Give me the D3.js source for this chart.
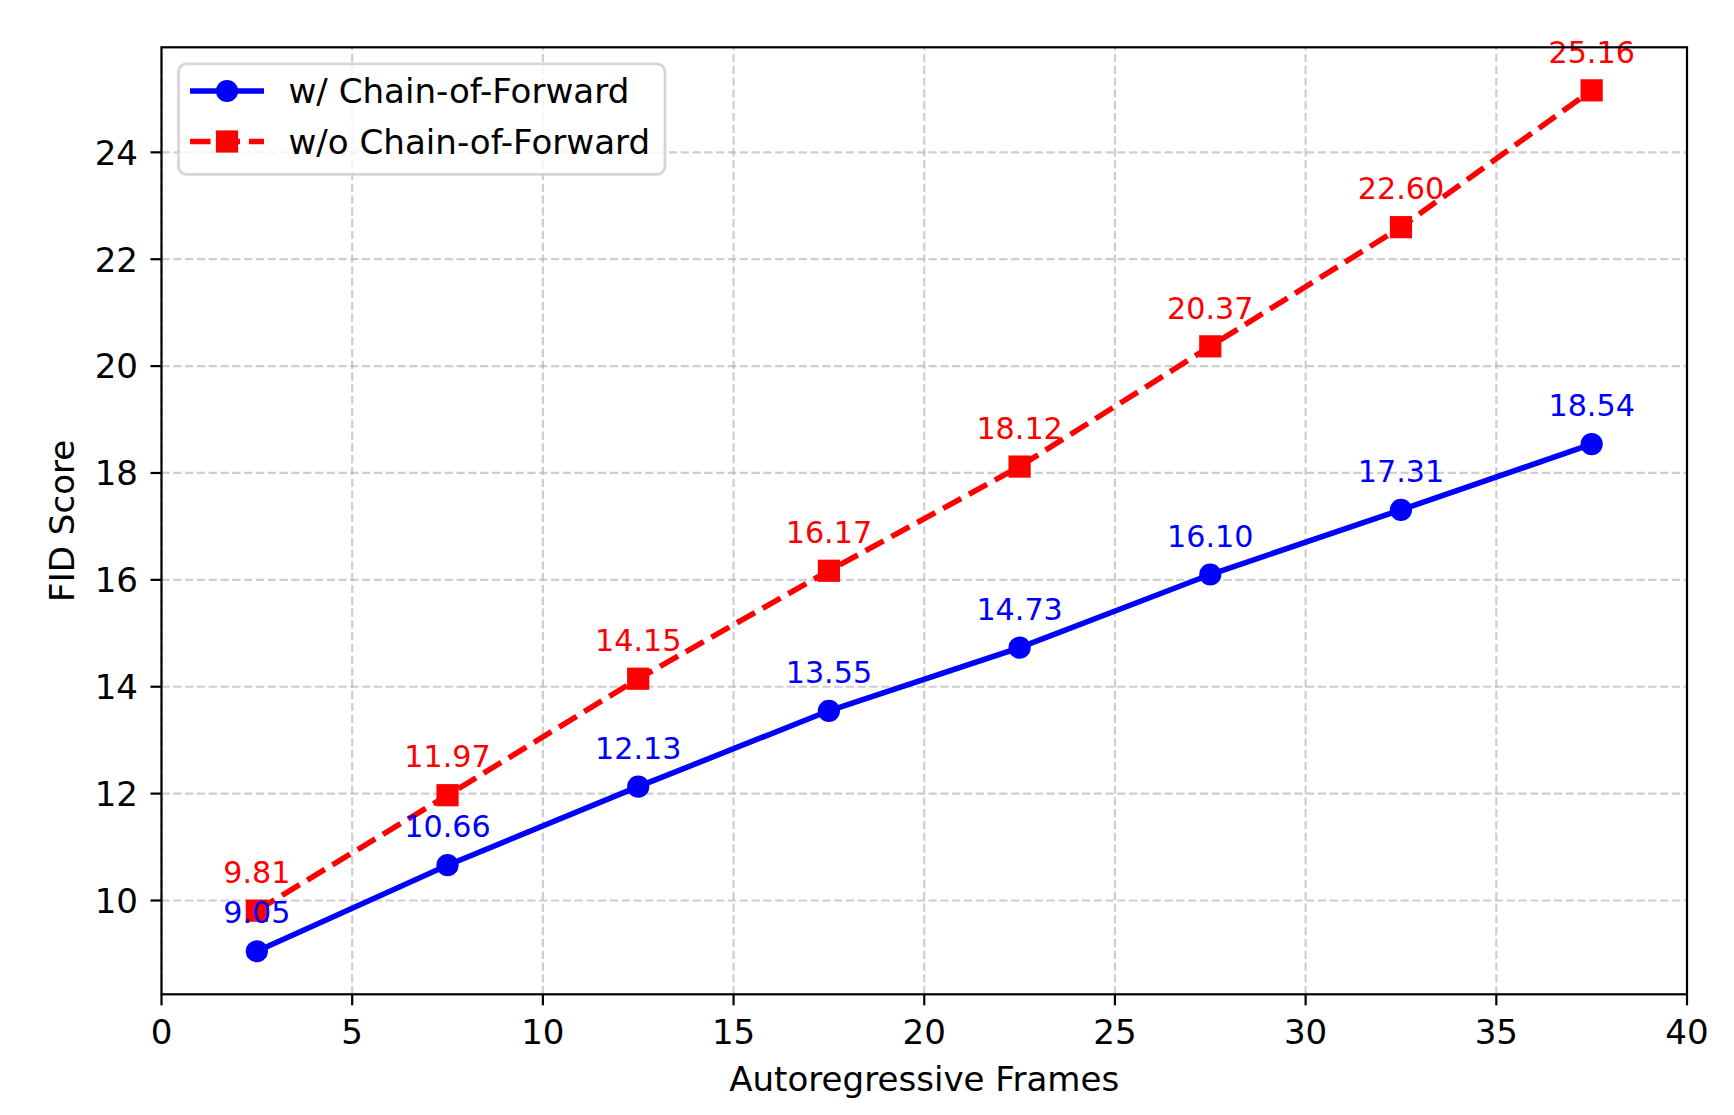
<!DOCTYPE html>
<html>
<head>
<meta charset="utf-8">
<script src="https://cdn.jsdelivr.net/npm/d3@7"></script>
<style>
  html, body { margin: 0; padding: 0; background: #fff; }
  svg { display: block; font-family: "DejaVu Sans", sans-serif; }
</style>
</head>
<body>
<svg id="chart" width="1734" height="1115"></svg>
<script>
// ---- data ----
const frames = [2.5, 7.5, 12.5, 17.5, 22.5, 27.5, 32.5, 37.5];
const withCoF = [9.05, 10.66, 12.13, 13.55, 14.73, 16.10, 17.31, 18.54];
const withoutCoF = [9.81, 11.97, 14.15, 16.17, 18.12, 20.37, 22.60, 25.16];
const seriesNames = ["w/ Chain-of-Forward", "w/o Chain-of-Forward"];
const xTicks = [0, 5, 10, 15, 20, 25, 30, 35, 40];
const yTicks = [10, 12, 14, 16, 18, 20, 22, 24];
const xLabel = "Autoregressive Frames";
const yLabel = "FID Score";

// ---- layout ----
const W = 1734, H = 1115;
const plot = { left: 161.5, right: 1687, top: 47.3, bottom: 994.3 };

const allY = withCoF.concat(withoutCoF);
const yMinD = d3.min(allY), yMaxD = d3.max(allY);
const yPad = (yMaxD - yMinD) * 0.05;

const x = d3.scaleLinear().domain([0, 40]).range([plot.left, plot.right]);
const y = d3.scaleLinear().domain([yMinD - yPad, yMaxD + yPad]).range([plot.bottom, plot.top]);

const svg = d3.select("#chart");
const lw = 5.56;
const markerSize = 22.2;
const fs = 34.1;

// grid
const grid = svg.append("g").attr("stroke", "#b0b0b0").attr("stroke-opacity", 0.62)
  .attr("stroke-width", 2.2).attr("stroke-dasharray", "8.2,3.6");
grid.selectAll("line.gx").data(xTicks).join("line")
  .attr("x1", d => x(d)).attr("x2", d => x(d))
  .attr("y1", plot.bottom).attr("y2", plot.top);
grid.selectAll("line.gy").data(yTicks).join("line").attr("class", "gy")
  .attr("x1", plot.left).attr("x2", plot.right)
  .attr("y1", d => y(d)).attr("y2", d => y(d));

// series
const series = [
  { name: seriesNames[0], values: withCoF, color: "#0000ff", dash: null, marker: "circle" },
  { name: seriesNames[1], values: withoutCoF, color: "#ff0000", dash: `${3.7*lw},${1.6*lw}`, marker: "square" }
];

const line = d3.line().x(d => x(d[0])).y(d => y(d[1]));

function drawMarker(g, cx, cy, s) {
  if (s.marker === "circle") {
    g.append("circle").attr("cx", cx).attr("cy", cy).attr("r", markerSize / 2).attr("fill", s.color);
  } else {
    g.append("rect").attr("x", cx - markerSize / 2).attr("y", cy - markerSize / 2)
      .attr("width", markerSize).attr("height", markerSize).attr("fill", s.color);
  }
}

series.forEach(s => {
  const pts = frames.map((f, i) => [f, s.values[i]]);
  const g = svg.append("g");
  g.append("path").attr("d", line(pts)).attr("fill", "none")
    .attr("stroke", s.color).attr("stroke-width", lw)
    .attr("stroke-dasharray", s.dash);
  pts.forEach(p => drawMarker(g, x(p[0]), y(p[1]), s));
});

// annotations
series.forEach(s => {
  svg.append("g").selectAll("text").data(frames.map((f, i) => [f, s.values[i]])).join("text")
    .attr("x", d => x(d[0])).attr("y", d => y(d[1]) - 27.8)
    .attr("text-anchor", "middle").attr("font-size", 30.2).attr("fill", s.color)
    .text(d => d[1].toFixed(2));
});

// spines
svg.append("rect").attr("x", plot.left).attr("y", plot.top)
  .attr("width", plot.right - plot.left).attr("height", plot.bottom - plot.top)
  .attr("fill", "none").attr("stroke", "#000").attr("stroke-width", 2.2);

// x ticks
const xt = svg.append("g");
xt.selectAll("line").data(xTicks).join("line")
  .attr("x1", d => x(d)).attr("x2", d => x(d))
  .attr("y1", plot.bottom).attr("y2", plot.bottom + 11)
  .attr("stroke", "#000").attr("stroke-width", 2.2);
xt.selectAll("text").data(xTicks).join("text")
  .attr("x", d => x(d)).attr("y", 1043.5).attr("text-anchor", "middle")
  .attr("font-size", fs).attr("fill", "#000").text(d => d);

// y ticks
const yt = svg.append("g");
yt.selectAll("line").data(yTicks).join("line")
  .attr("x1", plot.left - 11).attr("x2", plot.left)
  .attr("y1", d => y(d)).attr("y2", d => y(d))
  .attr("stroke", "#000").attr("stroke-width", 2.2);
yt.selectAll("text").data(yTicks).join("text")
  .attr("x", 138).attr("y", d => y(d) + 12.4).attr("text-anchor", "end")
  .attr("font-size", fs).attr("fill", "#000").text(d => d);

// axis labels
svg.append("text").attr("x", (plot.left + plot.right) / 2).attr("y", 1090.5)
  .attr("text-anchor", "middle").attr("font-size", fs).text(xLabel);
svg.append("text")
  .attr("transform", `translate(73.5,${(plot.top + plot.bottom) / 2}) rotate(-90)`)
  .attr("text-anchor", "middle").attr("font-size", fs).text(yLabel);

// legend
const lg = svg.append("g");
lg.append("rect").attr("x", 178.5).attr("y", 63.8).attr("width", 486.5).attr("height", 110.5)
  .attr("rx", 8).attr("ry", 8)
  .attr("fill", "#fff").attr("fill-opacity", 0.8)
  .attr("stroke", "#cccccc").attr("stroke-opacity", 0.8).attr("stroke-width", 2.78);
const rowsY = [91.0, 141.5];
series.forEach((s, i) => {
  const cy = rowsY[i];
  lg.append("line").attr("x1", 190).attr("x2", 264).attr("y1", cy).attr("y2", cy)
    .attr("stroke", s.color).attr("stroke-width", lw).attr("stroke-dasharray", s.dash);
  drawMarker(lg, 227, cy, s);
  lg.append("text").attr("x", 288.5).attr("y", cy + 12)
    .attr("font-size", fs).attr("fill", "#000").text(s.name);
});
</script>
</body>
</html>
